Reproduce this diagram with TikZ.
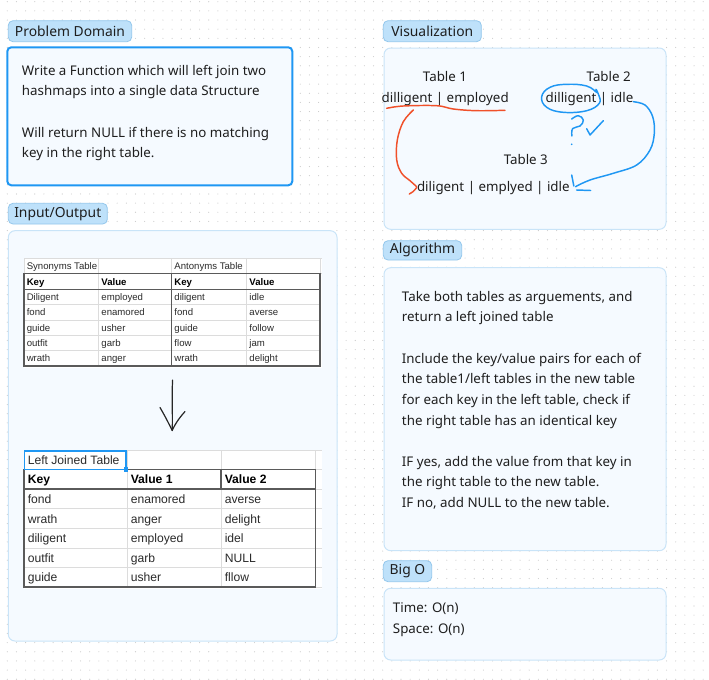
\documentclass[tikz,border=0pt]{standalone}
\usepackage{fontspec}
\setmainfont{Noto Sans}
\newfontfamily\sheet{Liberation Sans}
\usetikzlibrary{calc}
\definecolor{lblfill}{HTML}{BEE1FA}
\definecolor{lbldraw}{HTML}{93C7EC}
\definecolor{boxfill}{HTML}{F5FAFF}
\definecolor{boxdraw}{HTML}{C9E4F8}
\definecolor{brightblue}{HTML}{1F97F3}
\definecolor{txt}{HTML}{1E1E1E}
\definecolor{redink}{HTML}{F0502A}
\definecolor{dotc}{HTML}{CACACA}
\definecolor{gridl}{HTML}{DCDCDC}
\definecolor{tbord}{HTML}{5A5A5A}
\definecolor{sheettxt}{HTML}{2A2A2A}
\tikzset{
  lblbox/.style={draw=lbldraw, fill=lblfill, line width=0.6pt, rounded corners=3.5pt},
  lbltxt/.style={font=\fontsize{10.4}{12}\selectfont, text=txt, inner sep=0pt},
  panel/.style={draw=boxdraw, fill=boxfill, line width=0.75pt, rounded corners=5pt},
  bodytxt/.style={font=\fontsize{10}{12}\selectfont, text=txt, inner sep=0pt, anchor=base west},
  vistxt/.style={font=\fontsize{10}{12}\selectfont, text=txt, inner sep=0pt, anchor=base},
  s1/.style={font=\sheet\fontsize{7.2}{8}\selectfont, text=sheettxt, inner sep=0pt, anchor=base west},
  s1b/.style={s1, font=\sheet\bfseries\fontsize{7.2}{8}\selectfont, text=black},
  s2/.style={font=\sheet\fontsize{9.1}{10}\selectfont, text=sheettxt, inner sep=0pt, anchor=base west},
  s2b/.style={s2, font=\sheet\bfseries\fontsize{9.1}{10}\selectfont, text=black},
  thin grid/.style={draw=gridl, line width=0.5pt},
  thick grid/.style={draw=tbord, line width=0.9pt},
  redpen/.style={draw=redink, line width=1.1pt, line cap=round, line join=round},
  bluepen/.style={draw=brightblue, line width=1.1pt, line cap=round, line join=round},
  blackpen/.style={draw=black!85, line width=0.9pt, line cap=round, line join=round}
}
\begin{document}
\begin{tikzpicture}[x=0.75pt,y=-0.75pt]
\useasboundingbox (0,0) rectangle (709,679);
\fill[white] (0,0) rectangle (709,679);
% dot grid
\foreach \i in {0,...,76}{
  \foreach \j in {0,...,74}{
    \fill[dotc] (7.3+9.156*\i, 1.7+9.156*\j) circle (0.42pt);
  }
}

% ---------- Problem Domain ----------
\draw[lblbox] (8.3,20.7) rectangle (131.7,41.7);
\node[lbltxt] (pdlabel) at (70,31.2) {Problem Domain};
\draw[draw=brightblue, fill=boxfill, line width=1.5pt, rounded corners=3pt] (7.3,47.3) rectangle (292.3,185.3);
\node[bodytxt] (pd1) at (21.7,75.7) {Write a Function which will left join two};
\node[bodytxt] (pd2) at (21.7,95.7) {hashmaps into a single data Structure};
\node[bodytxt] (pd3) at (21.7,137.3) {Will return NULL if there is no matching};
\node[bodytxt] (pd4) at (21.7,157.7) {key in the right table.};

% ---------- Input/Output ----------
\draw[lblbox] (8.3,203.3) rectangle (107.3,224);
\node[lbltxt] (iolabel) at (57.8,213.8) {Input/Output};
\draw[panel] (8.3,230.7) rectangle (337,641);

% Synonyms / Antonyms sheet
\fill[white] (24,258) rectangle (322,368);
\foreach \yy in {258,273.3}{ \draw[thin grid] (24,\yy) -- (322,\yy); }
\foreach \xx in {24,98.7,171.7,246.7,320}{ \draw[thin grid] (\xx,258) -- (\xx,273.3); }
\foreach \yy in {304.6,320,335.3,350.7}{ \draw[thin grid] (24,\yy) -- (320,\yy); }
\foreach \xx in {98.7,246.7}{ \draw[thin grid] (\xx,273.3) -- (\xx,366); }
\draw[thick grid] (24,273.3) rectangle (320,366);
\draw[thick grid] (24,289.3) -- (320,289.3);
\draw[thick grid] (171.7,273.3) -- (171.7,366);
\node[s1] (syn) at (26.5,269.5) {Synonyms Table};
\node[s1] (ant) at (174.2,269.5) {Antonyms Table};
\foreach \k/\a/\b/\c [count=\r] in {
  Diligent/employed/diligent/idle,
  fond/enamored/fond/averse,
  guide/usher/guide/follow,
  outfit/garb/flow/jam,
  wrath/anger/wrath/delight}{
  \pgfmathsetmacro\by{289.3+15.34*\r-4.3}
  \node[s1] (sa\r) at (26.5,\by) {\k};
  \node[s1] (sb\r) at (101.2,\by) {\a};
  \node[s1] (sc\r) at (174.2,\by) {\b};
  \node[s1] (sd\r) at (249.2,\by) {\c};
}
\node[s1b] (sh1) at (26.5,285.2) {Key};
\node[s1b] (sh2) at (101.2,285.2) {Value};
\node[s1b] (sh3) at (174.2,285.2) {Key};
\node[s1b] (sh4) at (249.2,285.2) {Value};

% hand-drawn black arrow
\coordinate (arrTop) at (172.6,380);
\coordinate (arrTip) at (172.2,430.5);
\draw[blackpen] (arrTop) .. controls (171.6,398) and (172.8,414) .. (arrTip);
\draw[blackpen] (160,407.5) .. controls (165,416) and (169,424) .. (arrTip)
  .. controls (176,422) and (181,416) .. (185,411.5);

% Left joined sheet
\fill[white] (24,450.7) rectangle (322,589);
\foreach \yy in {450.7,469.3,489,508.7,528.3,547.9,567.5,587}{ \draw[thin grid] (24,\yy) -- (322,\yy); }
\foreach \xx in {24,127,221,315.3}{ \draw[thin grid] (\xx,450.7) -- (\xx,587); }
\draw[thick grid] (24,469.3) rectangle (315.3,587);
\draw[thick grid] (24,489) -- (315.3,489);
\draw[thick grid] (221,469.3) -- (221,489);
\draw[draw=tbord, line width=1.4pt] (24,587) -- (315.3,587);
\draw[draw=brightblue, line width=1.1pt] (24.7,450.9) rectangle (126,469.3);
\fill[brightblue] (123.8,467.1) rectangle (128.2,471.5);
\node[s2] (ljt) at (27.5,464.2) {Left Joined Table};
\node[s2b] (lh1) at (27.5,483.5) {Key};
\node[s2b] (lh2) at (130.5,483.5) {Value 1};
\node[s2b] (lh3) at (224.5,483.5) {Value 2};
\foreach \k/\a/\b [count=\r] in {
  fond/enamored/averse,
  wrath/anger/delight,
  diligent/employed/idel,
  outfit/garb/NULL,
  guide/usher/fllow}{
  \pgfmathsetmacro\by{489+19.6*\r-5.2}
  \node[s2] (la\r) at (27.5,\by) {\k};
  \node[s2] (lb\r) at (130.5,\by) {\a};
  \node[s2] (lc\r) at (224.5,\by) {\b};
}

% ---------- Visualization ----------
\draw[lblbox] (383.3,20.7) rectangle (481.3,41.7);
\node[lbltxt] (vislabel) at (432.3,31.2) {Visualization};
\draw[panel] (384,48) rectangle (666,229.3);
\node[vistxt] (t1) at (445,81.5) {Table 1};
\node[vistxt] (t1row) at (445.2,102.2) {dilligent | employed};
\node[vistxt] (t2) at (608.7,81.5) {Table 2};
\node[vistxt] (t2row) at (589.5,102.2) {dilligent | idle};
\node[vistxt] (t3) at (525.8,164) {Table 3};
\node[vistxt] (t3row) at (493.3,191.5) {diligent | emplyed | idle};

% red underline and arrow
\draw[redpen] plot[smooth, tension=0.6] coordinates {(386.7,108.3) (403.3,106) (436.7,105.7) (453.3,109) (476.7,110.7) (505,110.3)};
\draw[redpen] plot[smooth, tension=0.6] coordinates {(413.3,110) (403.3,121.7) (397.3,140) (396.7,160) (401.7,173.3) (410,180.7) (416.7,186.7)};
\draw[redpen] (416.7,187.5) .. controls (414,191) and (412,193) .. (409.3,194);

% blue loop round "dilligent"
\draw[bluepen] plot[smooth, tension=0.7] coordinates {(596.7,92.7) (586.7,86) (566.7,84.3) (550,87.3) (541.7,96.7) (546.7,107.3) (563.3,112.3) (586.7,110.7) (599.3,103.3) (598.7,95) (596,89.3)};
% question mark and tick
\draw[bluepen] plot[smooth, tension=0.7] coordinates {(571.7,119) (578.3,115.7) (583.3,120) (580,126) (572.7,128.5) (571.9,136)};
\fill[brightblue] (571.7,144.3) circle (0.7pt);
\draw[bluepen] (586.7,128.7) -- (590,135) -- (603.3,120.7);
% blue curve to table 3
\draw[bluepen] plot[smooth, tension=0.6] coordinates {(633.3,101.7) (645,105) (652.7,116.7) (654.3,133.3) (650,150) (636.7,165) (613.3,173.3) (590,180) (575.5,186.7)};
\draw[bluepen] (571.7,175) -- (573.8,186);
\draw[bluepen] (576.7,190) -- (590.7,190.5);

% ---------- Algorithm ----------
\draw[lblbox] (383.3,240.7) rectangle (461.7,260);
\node[lbltxt] (alglabel) at (422.5,250.3) {Algorithm};
\draw[panel] (384,267.7) rectangle (666,550.7);
\node[bodytxt] (a1) at (401.7,301) {Take both tables as arguements, and};
\node[bodytxt] (a2) at (401.7,321.7) {return a left joined table};
\node[bodytxt] (a3) at (401.7,363) {Include the key/value pairs for each of};
\node[bodytxt] (a4) at (401.7,383.7) {the table1/left tables in the new table};
\node[bodytxt] (a5) at (401.7,404.3) {for each key in the left table, check if};
\node[bodytxt] (a6) at (401.7,425) {the right table has an identical key};
\node[bodytxt] (a7) at (401.7,466.3) {IF yes, add the value from that key in};
\node[bodytxt] (a8) at (401.7,486.7) {the right table to the new table.};
\node[bodytxt] (a9) at (401.7,507.3) {IF no, add NULL to the new table.};

% ---------- Big O ----------
\draw[lblbox] (383.3,560.7) rectangle (431.7,581.7);
\node[lbltxt] (biglabel) at (407.5,571.2) {Big O};
\draw[panel] (384,588.3) rectangle (666,660);
\node[bodytxt] (b1) at (392.7,612.3) {Time: O(n)};
\node[bodytxt] (b2) at (392.7,633.3) {Space: O(n)};
\end{tikzpicture}
\end{document}
